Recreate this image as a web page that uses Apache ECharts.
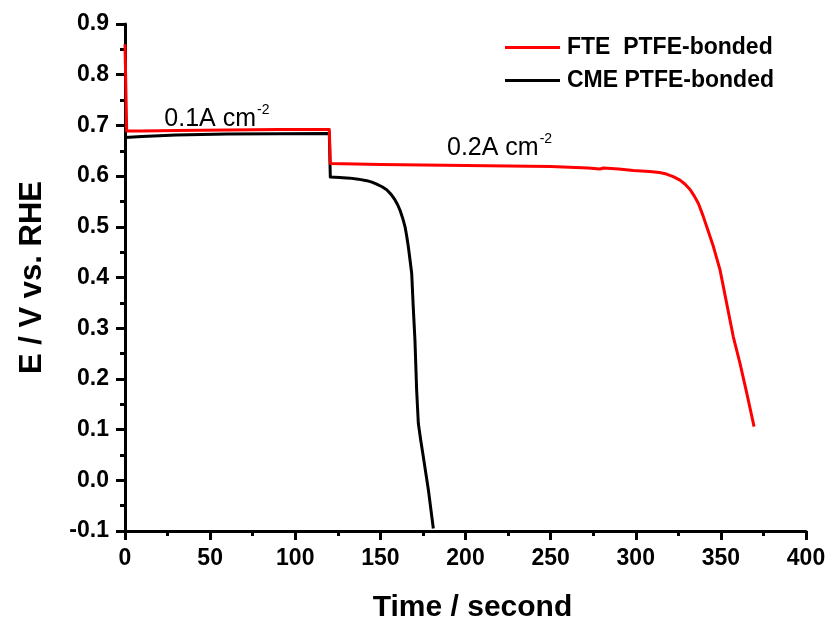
<!DOCTYPE html>
<html>
<head>
<meta charset="utf-8">
<script src="https://cdn.jsdelivr.net/npm/echarts@6/dist/echarts.min.js"></script>
<style>
  html, body { margin: 0; padding: 0; background: #fff; }
  #chart { width: 832px; height: 624px; }
</style>
</head>
<body>
<div id="chart"></div>
<script>
// Galvanostatic discharge: electrode potential vs. time at two current steps
const seriesNames = ['FTE  PTFE-bonded', 'CME PTFE-bonded'];

// FTE PTFE-bonded: [time (s), E (V vs. RHE)]
const fteData = [
  [0, 0.86], [1, 0.689], [10, 0.689], [30, 0.690], [60, 0.691], [90, 0.692],
  [120, 0.692], [120.6, 0.625], [150, 0.623], [200, 0.621], [250, 0.619],
  [272, 0.616], [279, 0.614], [281, 0.616], [290, 0.614],
  [298.6, 0.611], [308, 0.609], [314, 0.607], [318, 0.604], [322, 0.599],
  [326, 0.592], [329, 0.584], [332, 0.573], [334.5, 0.560], [336.8, 0.546],
  [339.5, 0.522], [341.7, 0.500], [345.6, 0.461], [349.5, 0.415],
  [353.4, 0.349], [357.3, 0.283], [361.2, 0.231], [365.2, 0.172],
  [369.5, 0.106]
];

// CME PTFE-bonded: [time (s), E (V vs. RHE)]
const cmeData = [
  [0, 0.676], [10, 0.678], [30, 0.681], [60, 0.683], [120, 0.684],
  [120.6, 0.598], [126, 0.597], [132.2, 0.596], [137, 0.594], [142, 0.591],
  [145, 0.588], [147.8, 0.584], [151, 0.579], [153.7, 0.573], [156.3, 0.564],
  [158.6, 0.553], [160.2, 0.543], [161.5, 0.533], [163.1, 0.517],
  [164.5, 0.500], [165.5, 0.481], [166.4, 0.461], [167.4, 0.435],
  [168.4, 0.408], [169.3, 0.342], [170.3, 0.277], [171.3, 0.178],
  [172.3, 0.112], [173.7, 0.079], [175.2, 0.047], [178.2, -0.019],
  [181.1, -0.095]
];

// Current-density annotations: [time, E, label value]
const annotations = [
  [54, 0.716, '0.1A cm'],
  [220, 0.659, '0.2A cm']
];

const FONT = '"Liberation Sans", Arial, sans-serif';

const chart = echarts.init(document.getElementById('chart'), null, { renderer: 'canvas' });

chart.setOption({
  animation: false,
  backgroundColor: '#ffffff',
  grid: { left: 125, right: 26, top: 24, bottom: 93, containLabel: false, outerBoundsMode: 'none' },
  legend: {
    orient: 'vertical',
    left: 505,
    top: 36,
    padding: 0,
    itemWidth: 55,
    itemHeight: 3,
    itemGap: 10,
    icon: 'rect',
    data: seriesNames,
    textStyle: { fontFamily: FONT, fontWeight: 'bold', fontSize: 23, color: '#000', padding: [0, 0, 0, 2] }
  },
  xAxis: {
    type: 'value',
    min: 0, max: 400, interval: 50,
    name: 'Time / second',
    nameLocation: 'middle',
    nameGap: 62,
    nameTextStyle: { fontFamily: FONT, fontWeight: 'bold', fontSize: 30, color: '#000', padding: [0, 0, 0, 14] },
    axisLine: { onZero: false, lineStyle: { color: '#000', width: 3 } },
    axisTick: { show: true, inside: false, length: 9, lineStyle: { color: '#000', width: 3 } },
    minorTick: { show: true, splitNumber: 2, length: 5, lineStyle: { color: '#000', width: 3 } },
    splitLine: { show: false },
    axisLabel: { margin: 16, fontFamily: FONT, fontWeight: 'bold', fontSize: 23, color: '#000' }
  },
  yAxis: {
    type: 'value',
    min: -0.1, max: 0.9, interval: 0.1,
    name: 'E / V vs. RHE',
    nameLocation: 'middle',
    nameRotate: 90,
    nameGap: 77,
    nameTextStyle: { fontFamily: FONT, fontWeight: 'bold', fontSize: 31, color: '#000' },
    axisLine: { show: true, lineStyle: { color: '#000', width: 3 } },
    axisTick: { show: true, inside: false, length: 9, lineStyle: { color: '#000', width: 3 } },
    minorTick: { show: true, splitNumber: 2, length: 5, lineStyle: { color: '#000', width: 3 } },
    splitLine: { show: false },
    axisLabel: {
      margin: 16, fontFamily: FONT, fontWeight: 'bold', fontSize: 23, color: '#000',
      formatter: v => (Math.abs(v) < 1e-9 ? 0 : v).toFixed(1)
    }
  },
  series: [
    {
      name: seriesNames[0],
      type: 'line',
      data: fteData,
      showSymbol: false,
      symbol: 'none',
      lineStyle: { color: '#ff0000', width: 3, join: 'round' },
      itemStyle: { color: '#ff0000' },
      z: 3
    },
    {
      name: seriesNames[1],
      type: 'line',
      data: cmeData,
      showSymbol: false,
      symbol: 'none',
      lineStyle: { color: '#000000', width: 3, join: 'round' },
      itemStyle: { color: '#000000' },
      z: 2
    },
    {
      name: 'annotations',
      type: 'scatter',
      data: annotations.map(a => ({ value: [a[0], a[1]], text: a[2] })),
      symbolSize: 0,
      silent: true,
      itemStyle: { opacity: 1, color: '#000' },
      label: {
        show: true,
        position: 'inside',
        color: '#000',
        formatter: p => '{a|' + p.data.text + '}{s|-2}',
        rich: {
          a: { fontFamily: FONT, fontSize: 25, color: '#000', verticalAlign: 'bottom', lineHeight: 28 },
          s: { fontFamily: FONT, fontSize: 14, color: '#000', verticalAlign: 'top', lineHeight: 28, padding: [0, 0, 12, 1] }
        }
      }
    }
  ]
});
</script>
</body>
</html>
